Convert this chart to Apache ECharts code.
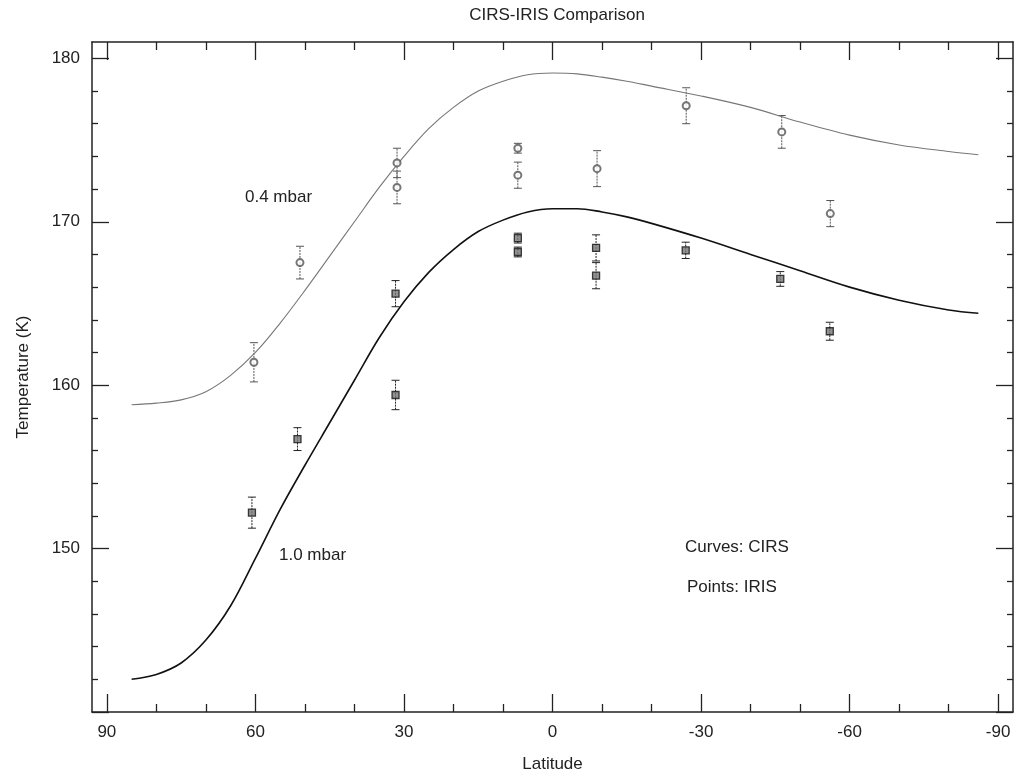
<!DOCTYPE html>
<html>
<head>
<meta charset="utf-8">
<script src="https://cdn.jsdelivr.net/npm/echarts@6/dist/echarts.min.js"></script>
<style>html,body{margin:0;padding:0;background:#fff;}#c{width:1021px;height:778px;}</style>
</head>
<body>
<div id="c"></div>
<script>
// CIRS curves (latitude ascending, temperature K)
const curveLat = [-86, -80, -70, -60, -50, -40, -30, -20, -15, -10, -5, 0, 5, 10, 15, 20, 25, 30, 35, 40, 45, 50, 55, 60, 65, 70, 75, 80, 85];
const cirs04 = [174.1, 174.3, 174.7, 175.3, 176.1, 177.0, 177.7, 178.3, 178.6, 178.85, 179.05, 179.1, 179.0, 178.6, 178.0, 177.0, 175.7, 174.0, 172.1, 170.0, 167.9, 165.8, 163.8, 162.0, 160.6, 159.6, 159.1, 158.9, 158.8];
const cirs10 = [164.4, 164.6, 165.2, 166.0, 167.0, 168.0, 169.0, 169.9, 170.3, 170.6, 170.8, 170.8, 170.6, 170.1, 169.4, 168.3, 166.9, 165.1, 162.9, 160.3, 157.7, 155.1, 152.4, 149.4, 146.5, 144.4, 143.0, 142.3, 142.0];

// IRIS points
const iris04Lat = [60.3, 51, 31.4, 31.4, 7, 7, -9, -27, -46.3, -56.1];
const iris04T   = [161.4, 167.5, 173.6, 172.1, 174.5, 172.85, 173.25, 177.1, 175.5, 170.5];
const iris04Err = [1.2, 1.0, 0.9, 1.0, 0.3, 0.8, 1.1, 1.1, 1.0, 0.8];
const iris10Lat = [60.7, 51.5, 31.7, 31.7, 7, 7, -8.8, -8.8, -26.9, -46, -56];
const iris10T   = [152.2, 156.7, 165.6, 159.4, 169.0, 168.15, 168.4, 166.7, 168.25, 166.5, 163.3];
const iris10Err = [0.95, 0.7, 0.8, 0.9, 0.3, 0.3, 0.8, 0.8, 0.5, 0.45, 0.55];

// tick values
const xMajor = [90, 60, 30, 0, -30, -60, -90];
const xMinor = [80, 70, 50, 40, 20, 10, -10, -20, -40, -50, -70, -80];
const yMajor = [140, 150, 160, 170, 180];
const yLabels = [150, 160, 170, 180];
const yMinor = [142, 144, 146, 148, 152, 154, 156, 158, 162, 164, 166, 168, 172, 174, 176, 178];

const FONT = 'Liberation Sans';
const ink = '#222';

function xAx(pos, ticks, len, labels, line) {
  return {
    type: 'value', min: -93, max: 93, inverse: true, position: pos,
    splitLine: {show: false},
    axisLine: {show: line, onZero: false, lineStyle: {color: ink, width: 1.5}},
    axisTick: {show: true, inside: true, length: len, customValues: ticks, lineStyle: {color: ink, width: 1.3}},
    axisLabel: labels ? {show: true, customValues: labels, color: ink, fontSize: 17, fontFamily: FONT, margin: 12} : {show: false},
    name: (pos === 'bottom' && labels) ? 'Latitude' : '',
    nameLocation: 'middle', nameGap: 44,
    nameTextStyle: {color: ink, fontSize: 17, fontFamily: FONT}
  };
}
function yAx(pos, ticks, len, labels, line) {
  return {
    type: 'value', min: 140, max: 181, position: pos,
    splitLine: {show: false},
    axisLine: {show: line, onZero: false, lineStyle: {color: ink, width: 1.5}},
    axisTick: {show: true, inside: true, length: len, customValues: ticks, lineStyle: {color: ink, width: 1.3}},
    axisLabel: labels ? {show: true, customValues: labels, color: ink, fontSize: 17, fontFamily: FONT, margin: 12} : {show: false},
    name: (pos === 'left' && labels) ? 'Temperature (K)' : '',
    nameLocation: 'middle', nameGap: 60, nameRotate: 90,
    nameTextStyle: {color: ink, fontSize: 17, fontFamily: FONT}
  };
}

function errSeries(lat, t, err, color) {
  return {
    type: 'custom', xAxisIndex: 0, yAxisIndex: 0, z: 3,
    data: lat.map((v, i) => [v, t[i] - err[i], t[i] + err[i]]),
    renderItem: function (params, api) {
      const lo = api.coord([api.value(0), api.value(1)]);
      const hi = api.coord([api.value(0), api.value(2)]);
      const w = 4;
      return {
        type: 'group',
        children: [
          {type: 'line', shape: {x1: lo[0], y1: lo[1], x2: hi[0], y2: hi[1]}, style: {stroke: color, lineWidth: 1, lineDash: [2, 1]}},
          {type: 'line', shape: {x1: lo[0] - w, y1: lo[1], x2: lo[0] + w, y2: lo[1]}, style: {stroke: color, lineWidth: 1}},
          {type: 'line', shape: {x1: hi[0] - w, y1: hi[1], x2: hi[0] + w, y2: hi[1]}, style: {stroke: color, lineWidth: 1}}
        ]
      };
    }
  };
}

const chart = echarts.init(document.getElementById('c'), null, {renderer: 'canvas'});
chart.setOption({
  backgroundColor: '#fff',
  animation: false,
  title: {
    text: 'CIRS-IRIS Comparison', left: 552, top: 2, textAlign: 'center',
    textStyle: {color: ink, fontSize: 17, fontWeight: 'normal', fontFamily: FONT}
  },
  grid: {left: 92, right: 8, top: 42, bottom: 66},
  xAxis: [
    xAx('bottom', xMajor, 18, xMajor, true),
    xAx('bottom', xMinor, 8, null, false),
    xAx('top', xMajor, 18, null, true),
    xAx('top', xMinor, 8, null, false)
  ],
  yAxis: [
    yAx('left', yMajor, 17, yLabels, true),
    yAx('left', yMinor, 6, null, false),
    yAx('right', yMajor, 17, null, true),
    yAx('right', yMinor, 6, null, false)
  ],
  series: [
    {
      type: 'line', smooth: 0.35, symbol: 'none', xAxisIndex: 0, yAxisIndex: 0,
      lineStyle: {color: '#777', width: 1.1},
      data: curveLat.map((v, i) => [v, cirs04[i]])
    },
    {
      type: 'line', smooth: 0.35, symbol: 'none', xAxisIndex: 0, yAxisIndex: 0,
      lineStyle: {color: '#111', width: 1.6},
      data: curveLat.map((v, i) => [v, cirs10[i]])
    },
    errSeries(iris04Lat, iris04T, iris04Err, '#555'),
    errSeries(iris10Lat, iris10T, iris10Err, '#222'),
    {
      type: 'scatter', xAxisIndex: 0, yAxisIndex: 0, z: 4,
      symbol: 'emptyCircle', symbolSize: 7,
      itemStyle: {color: '#555', borderColor: '#555', borderWidth: 1.3},
      data: iris04Lat.map((v, i) => [v, iris04T[i]])
    },
    {
      type: 'scatter', xAxisIndex: 0, yAxisIndex: 0, z: 4,
      symbol: 'rect', symbolSize: 7,
      itemStyle: {color: '#777', borderColor: '#111', borderWidth: 1.3},
      data: iris10Lat.map((v, i) => [v, iris10T[i]])
    }
  ],
  graphic: [
    {type: 'text', left: 245, top: 189, style: {text: '0.4 mbar', fill: ink, fontSize: 17, fontFamily: FONT}},
    {type: 'text', left: 279, top: 547, style: {text: '1.0 mbar', fill: ink, fontSize: 17, fontFamily: FONT}},
    {type: 'text', left: 685, top: 539, style: {text: 'Curves: CIRS', fill: ink, fontSize: 17, fontFamily: FONT}},
    {type: 'text', left: 687, top: 579, style: {text: 'Points: IRIS', fill: ink, fontSize: 17, fontFamily: FONT}}
  ]
});
</script>
</body>
</html>
